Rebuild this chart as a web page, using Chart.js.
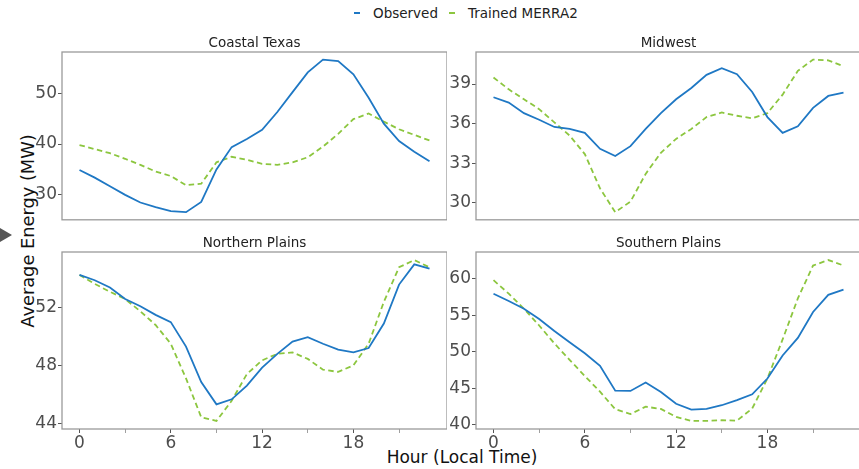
<!DOCTYPE html>
<html>
<head>
<meta charset="utf-8">
<script src="https://cdn.jsdelivr.net/npm/chart.js@4.4.1/dist/chart.umd.min.js"></script>
<style>
  html, body { margin: 0; padding: 0; background: #fff; }
  body { width: 859px; height: 469px; position: relative; overflow: hidden; font-family: "DejaVu Sans", sans-serif; }
  canvas { position: absolute; }
  #legend { position: absolute; left: 354px; top: 5px; display: flex; align-items: center; font-size: 13.5px; color: #222; }
  #legend .item { display: flex; align-items: center; margin-right: 11px; }
  #legend .swatch { width: 6px; height: 0; border-top: 2px solid; margin-right: 13px; }
  .axis-label { position: absolute; color: #111; white-space: nowrap; }
  #ylabel { left: 27px; top: 231px; font-size: 17.8px; transform: translate(-50%, -50%) rotate(-90deg); }
  #xlabel { left: 462px; top: 457px; font-size: 17px; transform: translate(-50%, -50%); }
  #marker { position: absolute; left: 0; top: 228px; width: 0; height: 0;
            border-top: 7px solid transparent; border-bottom: 7px solid transparent; border-left: 12px solid #555; }
</style>
</head>
<body>
<div id="legend"></div>
<div id="marker"></div>
<div class="axis-label" id="ylabel">Average Energy (MW)</div>
<div class="axis-label" id="xlabel">Hour (Local Time)</div>

<script>
// hourly averages, hour 0..23
const hours = [0, 1, 2, 3, 4, 5, 6, 7, 8, 9, 10, 11, 12, 13, 14, 15, 16, 17, 18, 19, 20, 21, 22, 23];

const coastalObserved = [34.9, 33.4, 31.7, 30.0, 28.5, 27.6, 26.8, 26.6, 28.6, 35.0, 39.4, 41.0,
                         42.8, 46.3, 50.2, 54.1, 56.6, 56.3, 53.7, 49.1, 44.0, 40.6, 38.5, 36.6];
const coastalMerra    = [39.8, 39.0, 38.2, 37.1, 35.9, 34.6, 33.7, 31.9, 32.2, 36.4, 37.5, 36.9,
                         36.1, 35.9, 36.4, 37.4, 39.5, 42.0, 44.9, 46.0, 44.4, 42.9, 41.8, 40.7];

const midwestObserved = [38.0, 37.6, 36.8, 36.3, 35.75, 35.6, 35.3, 34.1, 33.55, 34.3, 35.6, 36.8,
                         37.85, 38.7, 39.7, 40.2, 39.75, 38.4, 36.5, 35.3, 35.8, 37.2, 38.1, 38.35];
const midwestMerra    = [39.5, 38.6, 37.85, 37.1, 36.1, 35.1, 33.7, 31.1, 29.3, 30.1, 32.2, 33.8,
                         34.85, 35.6, 36.5, 36.85, 36.6, 36.4, 36.8, 38.2, 40.0, 40.85, 40.8, 40.35];

const northernObserved = [54.27, 53.9, 53.4, 52.6, 52.1, 51.5, 51.0, 49.3, 46.85, 45.3, 45.65, 46.6,
                          47.85, 48.8, 49.65, 49.95, 49.5, 49.1, 48.9, 49.2, 50.9, 53.6, 55.0, 54.7];
const northernMerra    = [54.27, 53.65, 53.1, 52.6, 51.75, 50.8, 49.5, 47.1, 44.4, 44.15, 45.55, 47.4,
                          48.35, 48.8, 48.9, 48.45, 47.7, 47.55, 48.0, 49.5, 52.4, 54.8, 55.3, 54.8];

const southernObserved = [57.95, 56.95, 55.9, 54.5, 52.85, 51.3, 49.8, 48.1, 44.7, 44.65, 45.8, 44.5,
                          42.9, 42.1, 42.2, 42.7, 43.4, 44.2, 46.35, 49.5, 51.9, 55.45, 57.8, 58.5];
const southernMerra    = [59.8, 57.95, 55.9, 53.6, 51.15, 48.9, 46.7, 44.55, 42.15, 41.5, 42.5, 42.2,
                          41.1, 40.55, 40.55, 40.65, 40.6, 42.25, 46.35, 51.7, 57.3, 61.8, 62.55, 61.8];

const xMajorTicks = [0, 6, 12, 18];
const xMinorTicks = [3, 9, 15, 21];
const coastalTicks = [30, 40, 50];
const midwestTicks = [30, 33, 36, 39];
const northernTicks = [44, 48, 52];
const southernTicks = [40, 45, 50, 55, 60];

const seriesNames = ['Observed', 'Trained MERRA2'];

const BLUE = '#1f78c4';
const GREEN = '#8cc63f';
const FONT = '"DejaVu Sans", sans-serif';

// legend across the top
const legendEl = document.getElementById('legend');
[[seriesNames[0], BLUE], [seriesNames[1], GREEN]].forEach(([name, col]) => {
  const item = document.createElement('div');
  item.className = 'item';
  item.innerHTML = `<span class="swatch" style="border-color:${col}"></span><span>${name}</span>`;
  legendEl.appendChild(item);
});

// panel frame over the lines, and the panel name centred above the plot area
const framePlugin = {
  id: 'frame',
  afterDatasetsDraw(chart) {
    const { ctx, chartArea: a } = chart;
    ctx.save();
    ctx.strokeStyle = '#9a9a9a';
    ctx.lineWidth = 1.3;
    ctx.strokeRect(a.left, a.top, a.right - a.left, a.bottom - a.top);
    ctx.restore();
  },
  afterDraw(chart, args, opts) {
    const { ctx, chartArea: a } = chart;
    ctx.save();
    ctx.fillStyle = '#222';
    ctx.font = `13.5px ${FONT}`;
    ctx.textAlign = 'center';
    ctx.textBaseline = 'middle';
    ctx.fillText(opts.text, (a.left + a.right) / 2, a.top - 9);
    ctx.restore();
  }
};

function paddedRange(a, b) {
  const lo = Math.min(...a, ...b);
  const hi = Math.max(...a, ...b);
  const m = (hi - lo) * 0.05;
  return [lo - m, hi + m];
}

function makePanel(p) {
  const canvas = document.createElement('canvas');
  canvas.width = p.width;
  canvas.height = p.height;
  canvas.style.left = p.left + 'px';
  canvas.style.top = p.top + 'px';
  document.body.appendChild(canvas);

  const [ymin, ymax] = paddedRange(p.observed, p.merra);

  new Chart(canvas.getContext('2d'), {
    type: 'line',
    data: {
      datasets: [
        {
          label: seriesNames[0],
          data: hours.map((h, i) => ({ x: h, y: p.observed[i] })),
          borderColor: BLUE,
          borderWidth: 1.8,
          pointRadius: 0,
          tension: 0
        },
        {
          label: seriesNames[1],
          data: hours.map((h, i) => ({ x: h, y: p.merra[i] })),
          borderColor: GREEN,
          borderWidth: 1.8,
          borderDash: [5.5, 3.5],
          pointRadius: 0,
          tension: 0
        }
      ]
    },
    options: {
      responsive: false,
      animation: false,
      devicePixelRatio: 1,
      layout: { padding: { top: 18, right: 0, bottom: p.bottomRow ? 0 : 2, left: 0 } },
      plugins: {
        legend: { display: false },
        tooltip: { enabled: false },
        title: { display: false },
        frame: { text: p.title }
      },
      scales: {
        x: {
          type: 'linear',
          min: -1.15,
          max: 24.15,
          afterBuildTicks: (s) => { s.ticks = xMajorTicks.concat(xMinorTicks).map(v => ({ value: v })); },
          afterFit: (s) => { s.height = p.bottomRow ? 24 : 0; },
          border: { display: false },
          grid: {
            drawOnChartArea: false,
            drawTicks: p.bottomRow,
            tickLength: 4,
            tickColor: (c) => xMajorTicks.includes(c.tick && c.tick.value) ? '#555' : '#888',
            tickWidth: (c) => xMajorTicks.includes(c.tick && c.tick.value) ? 1 : 0.8
          },
          ticks: {
            display: p.bottomRow,
            autoSkip: false,
            maxRotation: 0,
            padding: 0,
            color: '#4d4d4d',
            font: { family: FONT, size: 17 },
            callback: (v) => xMajorTicks.includes(v) ? String(v) : ''
          }
        },
        y: {
          type: 'linear',
          min: ymin,
          max: ymax,
          afterBuildTicks: (s) => { s.ticks = p.yTicks.map(v => ({ value: v })); },
          afterFit: (s) => { s.width = p.axisWidth; },
          border: { display: false },
          grid: { drawOnChartArea: false, drawTicks: true, tickLength: 4, tickColor: '#555' },
          ticks: {
            padding: 1,
            color: '#4d4d4d',
            font: { family: FONT, size: 17 },
            callback: (v) => String(v)
          }
        }
      }
    },
    plugins: [framePlugin]
  });
}

const panels = [
  { title: 'Coastal Texas',   observed: coastalObserved,  merra: coastalMerra,  yTicks: coastalTicks,
    left: 0,   top: 34,  width: 447, height: 197, axisWidth: 62, bottomRow: false },
  { title: 'Midwest',         observed: midwestObserved,  merra: midwestMerra,  yTicks: midwestTicks,
    left: 430, top: 34,  width: 431, height: 197, axisWidth: 46, bottomRow: false },
  { title: 'Northern Plains', observed: northernObserved, merra: northernMerra, yTicks: northernTicks,
    left: 0,   top: 234, width: 447, height: 219, axisWidth: 62, bottomRow: true },
  { title: 'Southern Plains', observed: southernObserved, merra: southernMerra, yTicks: southernTicks,
    left: 430, top: 234, width: 431, height: 219, axisWidth: 46, bottomRow: true }
];

panels.forEach(makePanel);
</script>
</body>
</html>
